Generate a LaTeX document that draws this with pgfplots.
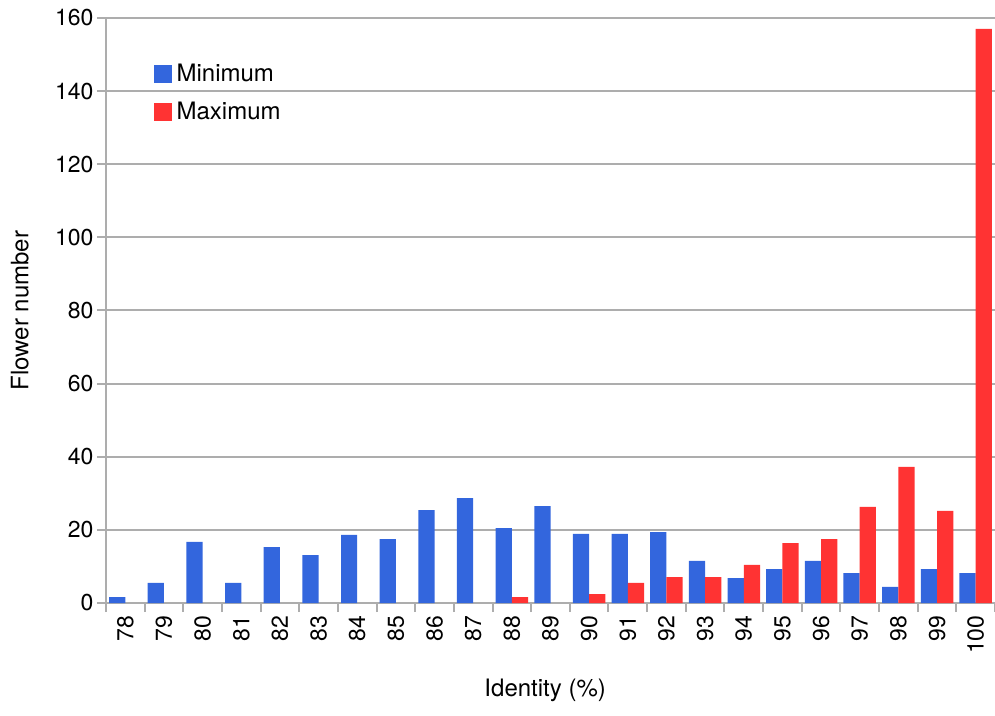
\documentclass[border=0pt]{standalone}
\usepackage{pgfplots}
\pgfplotsset{compat=1.18}
\usepackage{fontspec}
\setmainfont{TeX Gyre Heros}
\usetikzlibrary{calc}
\definecolor{minblue}{HTML}{3366DD}
\definecolor{maxred}{HTML}{FF3333}
\definecolor{gridgray}{HTML}{ADADAD}

\begin{document}
\begin{tikzpicture}
\begin{axis}[
    name=ax,
    scale only axis,
    width=889pt, height=585pt,
    font=\fontsize{23}{27}\selectfont,
    /pgf/number format/assume math mode=true,
    xmin=-0.5, xmax=22.5,
    ymin=0, ymax=160,
    ytick={0,20,...,160},
    xtick={0,...,22},
    xticklabels={78,79,80,81,82,83,84,85,86,87,88,89,90,91,92,93,94,95,96,97,98,99,100},
    minor xtick={-0.5,0.5,...,22.5},
    xticklabel style={rotate=90, anchor=east},
    axis x line*=bottom, axis y line*=left,
    axis line style={draw=gridgray, line width=2pt, -},
    tick align=outside,
    xtick style={draw=none},
    minor x tick style={draw=gridgray, line width=2pt},
    minor tick length=9pt,
    ytick style={draw=gridgray, line width=2pt},
    major tick length=9pt,
    ymajorgrids,
    grid style={draw=gridgray, line width=2pt},
    xlabel={Identity (\%)},
    ylabel={Flower number},
    xlabel style={at={(axis description cs:0.494,-0.149)}, anchor=center, font=\fontsize{24}{28}\selectfont},
    ylabel style={at={(axis description cs:-0.097,0.5)}, anchor=center, font=\fontsize{24}{28}\selectfont},
    ybar, bar width=0.42,
    legend style={at={(axis description cs:0.05,0.928)}, anchor=north west,
        draw=none, fill=none, font=\fontsize{24}{28}\selectfont,
        /tikz/row sep=15pt, /tikz/column sep=3pt, nodes={inner sep=2pt}},
    legend cell align=left,
    legend image code/.code={\fill[#1] (0pt,-9pt) rectangle (18pt,9pt);},
]
\addplot[fill=minblue, draw=none, bar shift=-0.21] coordinates {
    (0,1.6) (1,5.5) (2,16.7) (3,5.5) (4,15.3) (5,13.1) (6,18.6) (7,17.5)
    (8,25.4) (9,28.7) (10,20.5) (11,26.5) (12,18.9) (13,18.9) (14,19.4)
    (15,11.5) (16,6.8) (17,9.3) (18,11.5) (19,8.2) (20,4.4) (21,9.3) (22,8.2)};
\addplot[fill=maxred, draw=none, bar shift=0.21] coordinates {
    (10,1.6) (12,2.4) (13,5.5) (14,7.1) (15,7.1) (16,10.4) (17,16.4)
    (18,17.5) (19,26.3) (20,37.2) (21,25.2) (22,157)};
\legend{Minimum,Maximum}
\end{axis}
\pgfresetboundingbox
\path[use as bounding box] ($(ax.south west)+(-106pt,-112pt)$) rectangle ($(ax.north east)+(0pt,18pt)$);
\end{tikzpicture}
\end{document}
